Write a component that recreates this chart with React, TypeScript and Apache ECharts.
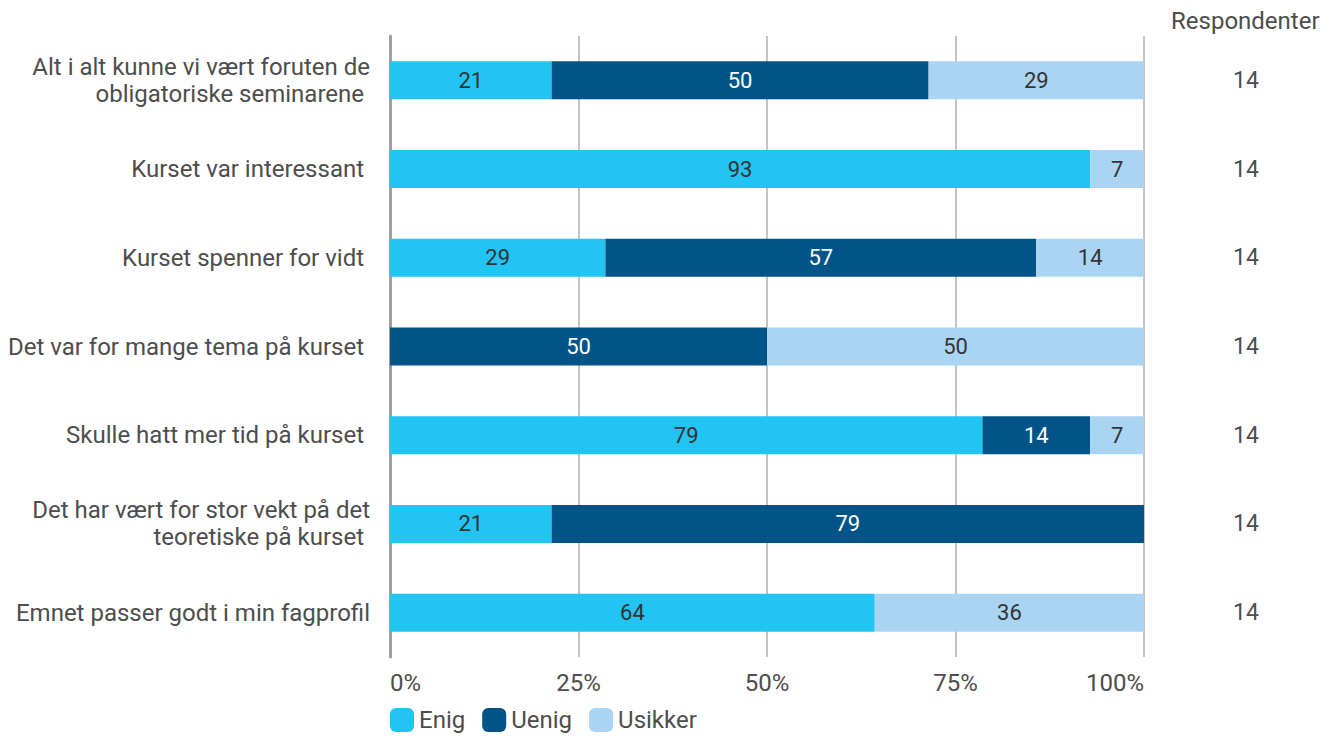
import React, { useEffect, useRef } from "react";
import * as echarts from "echarts";

const categories = [
  "Alt i alt kunne vi vært foruten de\nobligatoriske seminarene ",
  "Kurset var interessant ",
  "Kurset spenner for vidt ",
  "Det var for mange tema på kurset ",
  "Skulle hatt mer tid på kurset ",
  "Det har vært for stor vekt på det\nteoretiske på kurset ",
  "Emnet passer godt i min fagprofil",
];
const enig = [21.43, 92.86, 28.57, 0, 78.57, 21.43, 64.29];
const uenig = [50.0, 0, 57.14, 50.0, 14.29, 78.57, 0];
const usikker = [28.57, 7.14, 14.29, 50.0, 7.14, 0, 35.71];
const respondenter = [14, 14, 14, 14, 14, 14, 14];
const xTicks = [0, 25, 50, 75, 100];

const FONT = "Roboto, 'Noto Sans', sans-serif";

export default function App() {
  const ref = useRef<HTMLDivElement>(null);
  useEffect(() => {
    if (!ref.current) return;
    const chart = echarts.init(ref.current, null, { renderer: "svg" });
    const cats = [...categories].reverse();
    const rev = (a: number[]) => [...a].reverse();
    const labelFmt = (p: any) => (p.value > 0 ? String(Math.round(p.value)) : "");
    const mkSeries = (name: string, data: number[], color: string, labelColor: string) => ({
      name,
      type: "bar",
      stack: "total",
      barWidth: 38,
      data: rev(data),
      itemStyle: { color },
      label: {
        show: true,
        position: "inside",
        formatter: labelFmt,
        color: labelColor,
        fontSize: 22,
        fontFamily: FONT,
      },
    });
    chart.setOption({
      animation: false,
      textStyle: { fontFamily: FONT },
      grid: { left: 390, right: 178, top: 36, bottom: 79, containLabel: false },
      xAxis: {
        type: "value",
        min: 0,
        max: 100,
        interval: 25,
        axisLine: { show: false },
        axisTick: { show: false },
        splitLine: { show: true, lineStyle: { color: "#b0b0b0", width: 1.5 } },
        axisLabel: {
          formatter: (v: number) => (xTicks.includes(v) ? v + "%" : ""),
          fontSize: 24,
          color: "#4d4d4d",
          margin: 14,
          alignMinLabel: "left",
          alignMaxLabel: "right",
          fontFamily: FONT,
        },
      },
      yAxis: [
        {
          type: "category",
          data: cats,
          axisLine: { show: true, lineStyle: { color: "#a0a0a0", width: 3 } },
          axisTick: { show: false },
          axisLabel: {
            fontSize: 24,
            color: "#4d4d4d",
            margin: 20,
            lineHeight: 27,
            align: "right",
            fontFamily: FONT,
          },
        },
        {
          type: "category",
          position: "right",
          data: rev(respondenter).map(String),
          axisLine: { show: false },
          axisTick: { show: false },
          axisLabel: {
            fontSize: 23,
            color: "#4d4d4d",
            margin: 102,
            align: "center",
            fontFamily: FONT,
          },
        },
      ],
      legend: {
        left: 390,
        top: 708,
        padding: 0,
        itemWidth: 24,
        itemHeight: 24,
        itemGap: 17,
        icon: "roundRect",
        textStyle: { fontSize: 24, color: "#4d4d4d", fontFamily: FONT },
        data: ["Enig", "Uenig", "Usikker"],
      },
      graphic: [
        {
          type: "text",
          left: 1171,
          top: 9,
          style: { text: "Respondenter", fontSize: 24, fill: "#4d4d4d", fontFamily: FONT },
        },
      ],
      series: [
        mkSeries("Enig", enig, "#21C4F3", "#333333"),
        mkSeries("Uenig", uenig, "#005487", "#ffffff"),
        mkSeries("Usikker", usikker, "#A9D5F3", "#333333"),
      ],
    });
    return () => chart.dispose();
  }, []);
  return <div ref={ref} style={{ width: 1322, height: 736, position: "absolute", left: 0, top: 0 }} />;
}
